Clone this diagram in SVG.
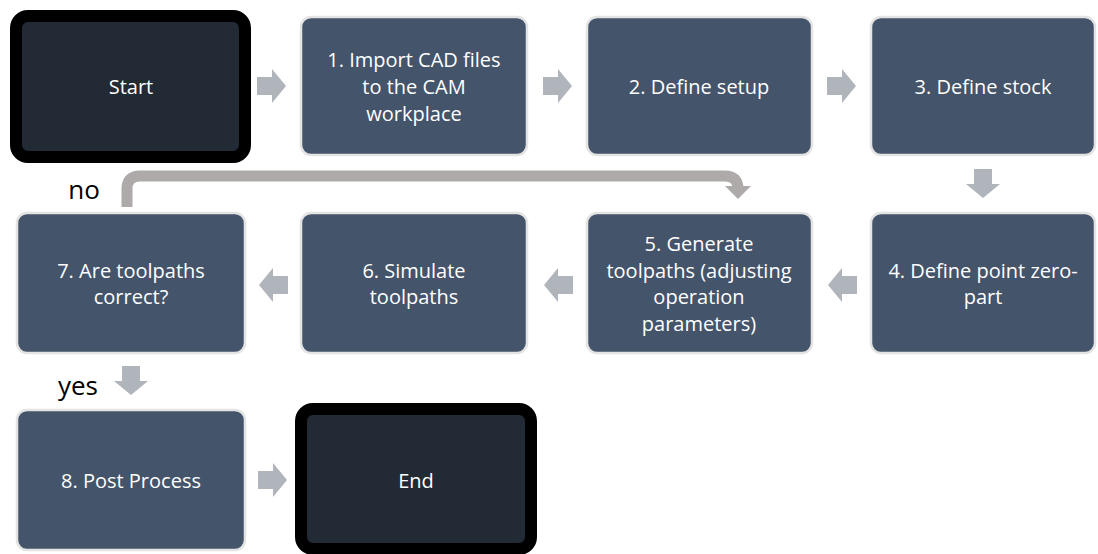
<svg xmlns="http://www.w3.org/2000/svg" width="1098" height="554" viewBox="0 0 1098 554">
  <style>
    .step { fill: #44546a; stroke: #e4e4e4; stroke-width: 2.5; }
    .term { fill: #222a35; stroke: #000000; stroke-width: 12; }
    .lbl { fill: #ffffff; font-family: "Open Sans", "Noto Sans", "Liberation Sans", sans-serif; font-size: 20px; text-anchor: middle; }
    .note { fill: #000000; font-family: "Open Sans", "Noto Sans", "Liberation Sans", sans-serif; font-size: 26px; text-anchor: middle; }
    .flow { fill: #b0b4bb; }
    .loop { fill: none; stroke: #aeaaaa; stroke-width: 11; }
  </style>
  <defs>
    <!-- block arrow pointing right, origin at the tail centre -->
    <path id="blk" d="M0,-9 H15 V-17 L29,0 L15,17 V9 H0 Z"/>
  </defs>
  <rect width="1098" height="554" fill="#ffffff"/>

  <!-- connectors -->
  <g id="connectors">
    <use href="#blk" class="flow" transform="translate(257,86)"/>
    <use href="#blk" class="flow" transform="translate(543,86)"/>
    <use href="#blk" class="flow" transform="translate(827,86)"/>
    <use href="#blk" class="flow" transform="translate(983,169) rotate(90)"/>
    <use href="#blk" class="flow" transform="translate(857,285) rotate(180)"/>
    <use href="#blk" class="flow" transform="translate(573,285) rotate(180)"/>
    <use href="#blk" class="flow" transform="translate(288,285) rotate(180)"/>
    <use href="#blk" class="flow" transform="translate(131,366) rotate(90)"/>
    <use href="#blk" class="flow" transform="translate(258,480)"/>
    <!-- "no" feedback loop from step 7 back to step 5 -->
    <path class="loop" d="M127,207 V189 Q127,176 140,176 H725 Q738,176 738,189"/>
    <polygon fill="#aeaaaa" points="725,186 751,186 738,199"/>
    <text class="note" x="84" y="199">no</text>
    <text class="note" x="78" y="395">yes</text>
  </g>

  <g id="start">
    <rect class="term" x="16" y="16" width="229" height="141" rx="12"/>
    <text class="lbl" x="131" y="94">Start</text>
  </g>
  <g id="step1">
    <rect class="step" x="301" y="17" width="226" height="138" rx="10"/>
    <text class="lbl" x="414" y="67">1. Import CAD files</text>
    <text class="lbl" x="414" y="94">to the CAM</text>
    <text class="lbl" x="414" y="121">workplace</text>
  </g>
  <g id="step2">
    <rect class="step" x="587" y="17" width="225" height="138" rx="10"/>
    <text class="lbl" x="699" y="94">2. Define setup</text>
  </g>
  <g id="step3">
    <rect class="step" x="871" y="17" width="224" height="138" rx="10"/>
    <text class="lbl" x="983" y="94">3. Define stock</text>
  </g>
  <g id="step4">
    <rect class="step" x="871" y="213" width="224" height="140" rx="10"/>
    <text class="lbl" x="983" y="278">4. Define point zero-</text>
    <text class="lbl" x="983" y="304">part</text>
  </g>
  <g id="step5">
    <rect class="step" x="587" y="213" width="225" height="140" rx="10"/>
    <text class="lbl" x="699" y="251">5. Generate</text>
    <text class="lbl" x="699" y="278">toolpaths (adjusting</text>
    <text class="lbl" x="699" y="304">operation</text>
    <text class="lbl" x="699" y="331">parameters)</text>
  </g>
  <g id="step6">
    <rect class="step" x="301" y="213" width="226" height="140" rx="10"/>
    <text class="lbl" x="414" y="278">6. Simulate</text>
    <text class="lbl" x="414" y="304">toolpaths</text>
  </g>
  <g id="step7">
    <rect class="step" x="17" y="213" width="228" height="140" rx="10"/>
    <text class="lbl" x="131" y="278">7. Are toolpaths</text>
    <text class="lbl" x="131" y="304">correct?</text>
  </g>
  <g id="step8">
    <rect class="step" x="17" y="410" width="228" height="140" rx="10"/>
    <text class="lbl" x="131" y="488">8. Post Process</text>
  </g>
  <g id="end">
    <rect class="term" x="301" y="409" width="230" height="140" rx="12"/>
    <text class="lbl" x="416" y="488">End</text>
  </g>
</svg>
